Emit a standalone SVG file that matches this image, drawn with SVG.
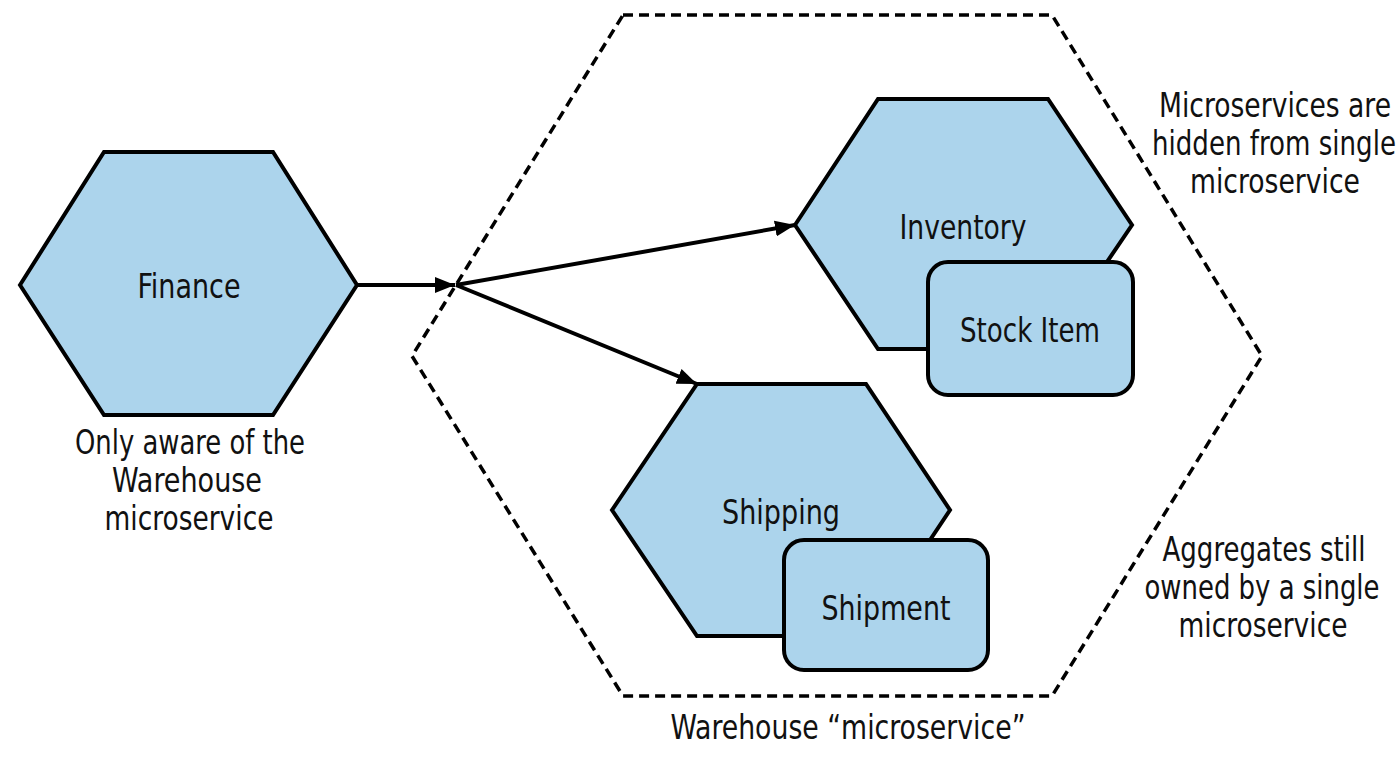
<svg xmlns="http://www.w3.org/2000/svg" width="1400" height="757" viewBox="0 0 1400 757">
<style>
.node{fill:#acd4ec;stroke:#000;stroke-width:4;stroke-linejoin:miter}
.agg{fill:#acd4ec;stroke:#000;stroke-width:4}
.bound{fill:none;stroke:#000;stroke-width:3.5;stroke-dasharray:10 6}
.edge{fill:none;stroke:#000;stroke-width:4}
text{font-family:"DejaVu Sans Condensed","Liberation Sans",sans-serif;font-size:34px;fill:#111;text-anchor:middle}
</style>
<defs>
<marker id="arr" viewBox="0 0 20 16" refX="20" refY="8" markerWidth="20" markerHeight="16" markerUnits="userSpaceOnUse" orient="auto">
<path d="M0,0 L20,8 L0,16 z" fill="#000"/>
</marker>
</defs>
<g id="warehouse">
<polygon class="bound" points="623,15 1052,15 1262,356 1052,696 623,696 412,356"/>
<text x="848" y="739" textLength="355" lengthAdjust="spacingAndGlyphs">Warehouse “microservice”</text>
</g>
<g id="connectors">
<line class="edge" x1="357" y1="285" x2="455" y2="285" marker-end="url(#arr)"/>
<line class="edge" x1="456" y1="285" x2="795" y2="225" marker-end="url(#arr)"/>
<line class="edge" x1="456" y1="285" x2="697" y2="384" marker-end="url(#arr)"/>
</g>
<g id="finance">
<polygon class="node" points="20,285 104,152 273,152 357,285 273,415 104,415"/>
<text x="189" y="298" textLength="103" lengthAdjust="spacingAndGlyphs">Finance</text>
</g>
<g id="inventory">
<polygon class="node" points="795,225 878,99 1048,99 1132,225 1048,349 878,349"/>
<text x="963" y="239" textLength="127" lengthAdjust="spacingAndGlyphs">Inventory</text>
</g>
<g id="stock-item">
<rect class="agg" x="928" y="262" width="205" height="133" rx="20"/>
<text x="1030" y="342" textLength="140" lengthAdjust="spacingAndGlyphs">Stock Item</text>
</g>
<g id="shipping">
<polygon class="node" points="612,510 697,384 866,384 950,510 866,636 697,636"/>
<text x="781" y="524" textLength="118" lengthAdjust="spacingAndGlyphs">Shipping</text>
</g>
<g id="shipment">
<rect class="agg" x="784" y="540" width="204" height="130" rx="20"/>
<text x="886" y="620" textLength="129" lengthAdjust="spacingAndGlyphs">Shipment</text>
</g>
<g id="note-finance">
<text x="190" y="454" textLength="230" lengthAdjust="spacingAndGlyphs">Only aware of the</text>
<text x="187" y="492" textLength="150" lengthAdjust="spacingAndGlyphs">Warehouse</text>
<text x="189" y="530" textLength="169" lengthAdjust="spacingAndGlyphs">microservice</text>
</g>
<g id="note-hidden">
<text x="1275" y="117" textLength="232" lengthAdjust="spacingAndGlyphs">Microservices are</text>
<text x="1274" y="155" textLength="244" lengthAdjust="spacingAndGlyphs">hidden from single</text>
<text x="1275" y="193" textLength="170" lengthAdjust="spacingAndGlyphs">microservice</text>
</g>
<g id="note-aggregates">
<text x="1264" y="561" textLength="203" lengthAdjust="spacingAndGlyphs">Aggregates still</text>
<text x="1262" y="599" textLength="235" lengthAdjust="spacingAndGlyphs">owned by a single</text>
<text x="1263" y="637" textLength="169" lengthAdjust="spacingAndGlyphs">microservice</text>
</g>
</svg>
